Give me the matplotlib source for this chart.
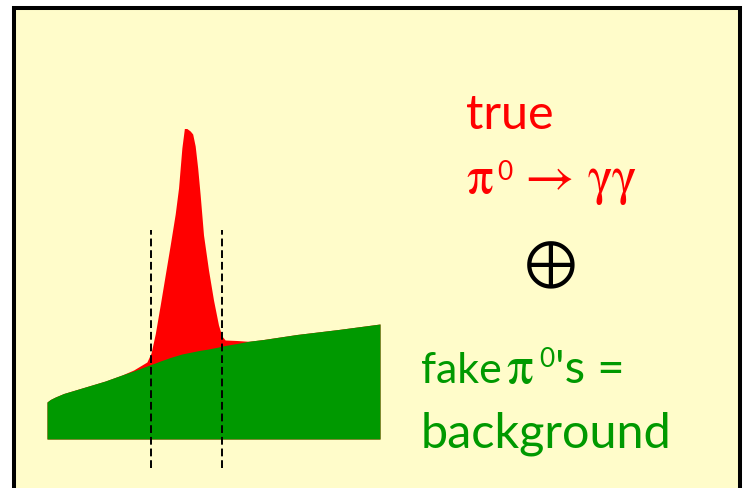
#!/usr/bin/env python3

import numpy as np
import matplotlib
matplotlib.use('Agg')
import matplotlib.pyplot as plt
import matplotlib.patches as patches

# two-photon invariant mass (MeV) and stacked counts
mass = [50, 52, 55, 60, 70, 85, 95, 102, 106, 110, 112.5, 115, 118, 121,
        124, 127, 129, 131, 132.5, 134, 136, 137.5, 139, 140.5, 142, 144,
        147, 150, 153, 155, 157, 164, 171, 180, 200, 225, 250]
background = [370, 395, 420, 455, 505, 580, 640, 680, 705, 730, 745, 760,
              780, 797, 815, 830, 840, 850, 855, 860, 867, 872, 877, 882,
              887, 892, 900, 910, 920, 928, 935, 955, 977, 995, 1045, 1095,
              1150]
signal = [0, 0, 0, 0, 0, 0, 0, 10, 25, 40, 115, 290, 560, 843, 1125, 1420,
          1670, 2060, 2250, 2245, 2213, 2178, 2053, 1828, 1553, 1148, 790,
          480, 220, 102, 55, 30, 0, 0, 0, 0, 0]
mass_window = [112.5, 155.2]

PANEL = '#FFFCCA'
RED = '#FF0000'
GREEN = '#009900'
SANS = 'Lato'
SERIF = 'STIXGeneral'


def draw_panel(fig):
    ax = fig.add_axes([0, 0, 1, 1])
    ax.set_xlim(0, 744)
    ax.set_ylim(488, 0)
    ax.axis('off')
    ax.add_patch(patches.Rectangle((13.5, 7.5), 726.8, 500,
                                   facecolor=PANEL, edgecolor='black',
                                   linewidth=2.9, clip_on=False))
    return ax


def draw_labels(ax):
    ax.text(466, 129, 'true', color=RED, family=SANS, fontsize=35,
            va='baseline')
    ax.text(466, 193, '\u03c0', color=RED, family=SERIF, fontsize=38,
            va='baseline')
    ax.text(497, 180, '0', color=RED, family=SANS, fontsize=19,
            va='baseline')
    ax.text(524, 193, '\u2192', color=RED, family=SERIF, fontsize=39,
            va='baseline')
    ax.text(587, 193, '\u03b3\u03b3', color=RED, family=SERIF, fontsize=38,
            va='baseline')
    ax.text(551, 266, '\u2295', color='black', family=SERIF,
            fontsize=46, ha='center', va='center')
    ax.text(421, 383, 'fake', color=GREEN, family=SANS, fontsize=31,
            va='baseline')
    ax.text(506, 383, '\u03c0', color=GREEN, family=SERIF, fontsize=38,
            va='baseline')
    ax.text(539, 367, '0', color=GREEN, family=SANS, fontsize=19,
            va='baseline')
    ax.text(555, 383, "'s =", color=GREEN, family=SANS, fontsize=34,
            va='baseline')
    ax.text(421, 447, 'background', color=GREEN, family=SANS, fontsize=35,
            va='baseline')


def draw_spectrum(fig):
    ax = fig.add_axes([47 / 744, 0, 333 / 744, 1])
    ax.patch.set_visible(False)
    ax.set_xlim(50, 250)
    ax.set_ylim(-490, 4390)
    ax.axis('off')
    m = np.array(mass, dtype=float)
    bkg = np.array(background, dtype=float)
    total = bkg + np.array(signal, dtype=float)
    ax.fill_between(m, 0, total, color=RED, linewidth=0)
    ax.fill_between(m, 0, bkg, color=GREEN, linewidth=0)
    ax.vlines(mass_window, -290, 2090, colors='black', linewidth=1.4,
              linestyles=[(0, (4, 2))])


def main():
    fig = plt.figure(figsize=(7.44, 4.88), dpi=100)
    fig.patch.set_facecolor('white')
    panel = draw_panel(fig)
    draw_labels(panel)
    draw_spectrum(fig)
    fig.savefig('out.png', dpi=100)


if __name__ == '__main__':
    main()
